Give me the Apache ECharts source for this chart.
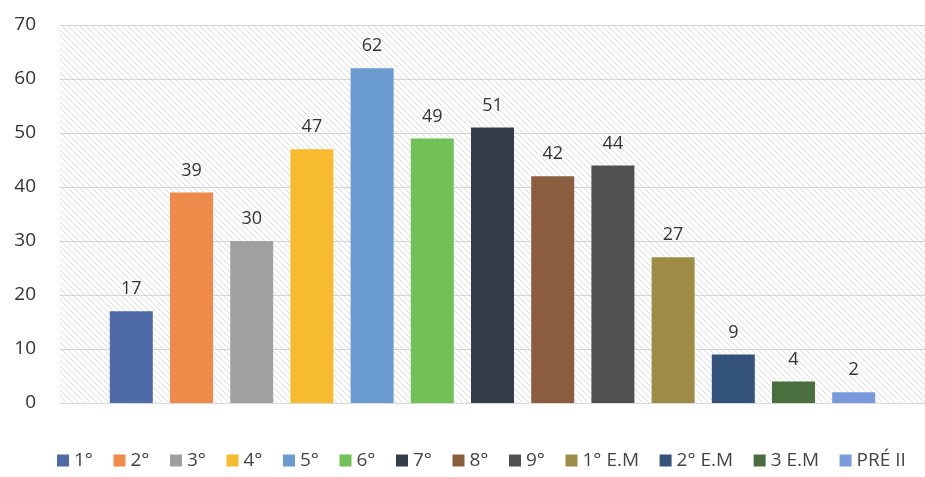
<!DOCTYPE html>
<html>
<head>
<meta charset="utf-8">
<script src="https://cdn.jsdelivr.net/npm/echarts@6/dist/echarts.min.js"></script>
<style>html,body{margin:0;padding:0;background:#fff}#c{width:925px;height:477px}</style>
</head>
<body>
<div id="c"></div>
<script>
const seriesNames = ['1°','2°','3°','4°','5°','6°','7°','8°','9°','1° E.M','2° E.M','3 E.M','PRÉ II'];
const seriesValues = [17,39,30,47,62,49,51,42,44,27,9,4,2];
const seriesColors = ['#4f6aa8','#f08a4b','#a0a0a0','#f6bb2e','#6a9bd0','#72c158','#363d4a','#8a5e3e','#505050','#9c8c45','#34537a','#4a6e3e','#7a9ade'];
const yTicks = {min:0, max:70, interval:10};

// hatch pattern for plot background
const pc = document.createElement('canvas');
pc.width = 6; pc.height = 6;
const pctx = pc.getContext('2d');
pctx.fillStyle = '#ffffff';
pctx.fillRect(0,0,6,6);
pctx.strokeStyle = '#dcdcdc';
pctx.lineWidth = 1;
pctx.beginPath();
pctx.moveTo(0,0); pctx.lineTo(6,6);
pctx.moveTo(-3,3); pctx.lineTo(3,9);
pctx.moveTo(3,-3); pctx.lineTo(9,3);
pctx.stroke();

const chart = echarts.init(document.getElementById('c'));
chart.setOption({
  animation:false,
  textStyle:{fontFamily:'"Open Sans", "Noto Sans", sans-serif'},
  grid:{left:60, right:0, top:25, bottom:74, show:true, borderWidth:0,
        backgroundColor:{image:pc, repeat:'repeat'}},
  legend:{
    data:seriesNames, bottom:2, left:52, itemWidth:12, itemHeight:12, itemGap:20.5,
    icon:'rect', textStyle:{fontSize:19, color:'#444'}
  },
  xAxis:{type:'category', data:[''], axisLine:{lineStyle:{color:'#d9d9d9'}}, axisTick:{show:false}, axisLabel:{show:false}},
  yAxis:{type:'value', min:yTicks.min, max:yTicks.max, interval:yTicks.interval,
    axisLabel:{fontSize:19, color:'#333', margin:24},
    splitLine:{lineStyle:{color:'#d4d4d4'}}},
  series: seriesNames.map((n,i)=>({
    name:n, type:'bar', data:[seriesValues[i]], barWidth:43, barGap:'40%',
    itemStyle:{color:seriesColors[i]},
    label:{show:true, position:'top', distance:13, fontSize:18, color:'#333'}
  }))
});
</script>
</body>
</html>
